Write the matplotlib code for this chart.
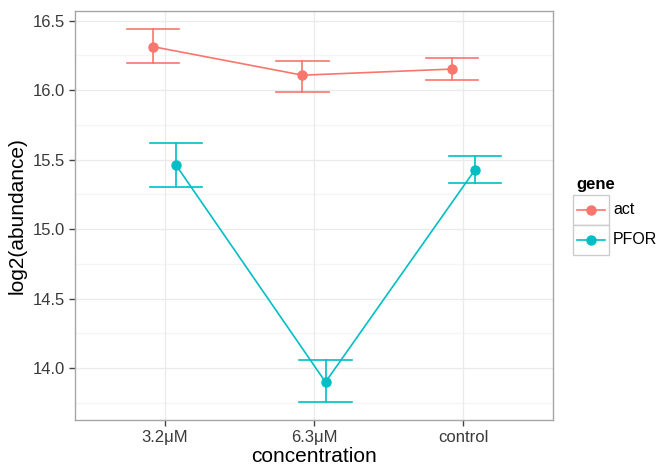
import numpy as np
import matplotlib
matplotlib.use("Agg")
import matplotlib.pyplot as plt
from matplotlib.patches import Rectangle
from matplotlib.lines import Line2D

plt.rcParams['font.family'] = ['Liberation Sans', 'DejaVu Sans']

concentration = ['3.2\u03bcM', '6.3\u03bcM', 'control']
genes = ['act', 'PFOR']
colors = {'act': '#F8766D', 'PFOR': '#00BFC4'}

act_mean = [16.313, 16.108, 16.152]
act_lo = [16.196, 15.99, 16.07]
act_hi = [16.44, 16.21, 16.235]

pfor_mean = [15.46, 13.90, 15.426]
pfor_lo = [15.30, 13.76, 15.33]
pfor_hi = [15.62, 14.06, 15.53]

means = {'act': act_mean, 'PFOR': pfor_mean}
lows = {'act': act_lo, 'PFOR': pfor_lo}
highs = {'act': act_hi, 'PFOR': pfor_hi}
dodge = {'act': -0.077, 'PFOR': 0.077}

W, H = 660, 468
fig = plt.figure(figsize=(6.6, 4.68), dpi=100)
ax = fig.add_axes([75 / W, 1 - 420 / H, (553 - 75) / W, (420 - 10.7) / H])

x = np.arange(1, len(concentration) + 1)

# grid, theme_bw style
for yv in np.arange(13.75, 16.6, 0.5):
    ax.axhline(yv, color='#F5F5F5', lw=0.9, zorder=0)
for yv in np.arange(14.0, 16.6, 0.5):
    ax.axhline(yv, color='#EBEBEB', lw=1.0, zorder=0)
for xv in x:
    ax.axvline(xv, color='#EBEBEB', lw=1.0, zorder=0)

cap = 0.175
for g in genes:
    xs = x + dodge[g]
    c = colors[g]
    ax.plot(xs, means[g], color=c, lw=1.2, zorder=3)
    ax.plot(xs, means[g], 'o', color=c, ms=6.5, zorder=4)
    for xi, lo, hi in zip(xs, lows[g], highs[g]):
        ax.plot([xi, xi], [lo, hi], color=c, lw=1.2, zorder=3)
        ax.plot([xi - cap, xi + cap], [lo, lo], color=c, lw=1.2, zorder=3)
        ax.plot([xi - cap, xi + cap], [hi, hi], color=c, lw=1.2, zorder=3)

ax.set_xlim(0.4, 3.6)
ax.set_ylim(13.627, 16.572)
ax.set_xticks(x)
ax.set_xticklabels(concentration)
ax.set_yticks([14.0, 14.5, 15.0, 15.5, 16.0, 16.5])
ax.set_yticklabels(['14.0', '14.5', '15.0', '15.5', '16.0', '16.5'])
ax.tick_params(axis='both', direction='out', length=4.5, width=1, color='#444444',
               labelcolor='#3a3a3a', labelsize=12, pad=3)
for s in ax.spines.values():
    s.set_color('#A6A6A6')
    s.set_linewidth(1.0)

ax.set_xlabel('concentration', fontsize=15, labelpad=1)
ax.set_ylabel('log2(abundance)', fontsize=15, labelpad=4)

# legend drawn by hand to mimic ggplot keys
def px(xp, yp):
    return xp / W, 1 - yp / H

fig.text(*px(576, 185), 'gene', fontsize=12, fontweight='bold', va='center', ha='left')
rows = [(195, 225), (225, 255)]
for g, (t, b) in zip(genes, rows):
    x0, y0 = px(573, b)
    fig.add_artist(Rectangle((x0, y0), 36 / W, (b - t) / H, transform=fig.transFigure,
                             facecolor='white', edgecolor='#CCCCCC', lw=1.0))
    cy = (t + b) / 2
    lx0, ly = px(577, cy)
    lx1, _ = px(605, cy)
    fig.add_artist(Line2D([lx0, lx1], [ly, ly], transform=fig.transFigure,
                          color=colors[g], lw=1.2))
    mx, my = px(591, cy)
    fig.add_artist(Line2D([mx], [my], transform=fig.transFigure, marker='o',
                          color=colors[g], ms=6.5))
    fig.text(*px(613, cy), g, fontsize=11.5, va='center', ha='left')

fig.savefig('out.png', dpi=100)
